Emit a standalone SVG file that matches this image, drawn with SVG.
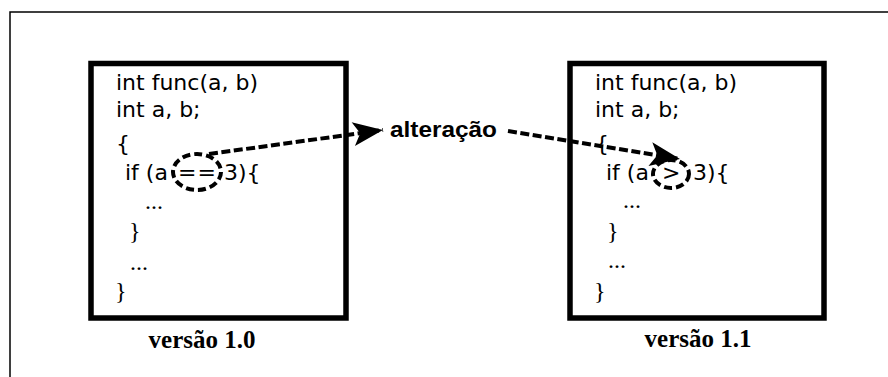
<svg xmlns="http://www.w3.org/2000/svg" width="888" height="377" viewBox="0 0 888 377">
  <style>
    .frame { fill: none; stroke: #000; stroke-width: 1.5; }
    .box { fill: #fff; stroke: #000; stroke-width: 5.5; }
    .code { font-family: "DejaVu Sans", "Liberation Sans", sans-serif; font-size: 22px; fill: #000; }
    .serif { font-family: "Liberation Serif", "Times New Roman", serif; font-size: 24px; fill: #000; }
    .caption { font-family: "Liberation Serif", "Times New Roman", serif; font-size: 25px; font-weight: bold; fill: #000; text-anchor: middle; }
    .label { font-family: "Liberation Sans", Arial, sans-serif; font-size: 22px; font-weight: bold; fill: #000; }
    .mark { fill: none; stroke: #000; stroke-width: 4; stroke-dasharray: 8 4; }
    .conn { fill: none; stroke: #000; stroke-width: 4; stroke-dasharray: 9 3.5; }
  </style>
  <defs>
    <marker id="head" markerUnits="userSpaceOnUse" markerWidth="36" markerHeight="30" refX="32" refY="14" orient="auto">
      <path d="M32,14 L2,2 L9,14 L2,26 Z" fill="#000"/>
    </marker>
  </defs>

  <rect width="888" height="377" fill="#fff"/>

  <!-- outer frame (top and left edges) -->
  <path class="frame" d="M10,377 V12 H888"/>

  <!-- version 1.0 -->
  <g id="v10">
    <rect class="box" x="91" y="63.5" width="255" height="254.5"/>
    <text class="code" x="116" y="90">int func(a, b)</text>
    <text class="code" x="116" y="117">int a, b;</text>
    <text class="code" x="116" y="151">{</text>
    <text class="code" y="180"><tspan x="125">if (a</tspan><tspan x="178" textLength="38" lengthAdjust="spacing">==</tspan><tspan x="224">3){</tspan></text>
    <ellipse class="mark" cx="197" cy="172" rx="24" ry="18"/>
    <text class="serif" x="145" y="209">...</text>
    <text class="serif" x="129" y="239">}</text>
    <text class="serif" x="130" y="270">...</text>
    <text class="serif" x="115" y="299">}</text>
    <text class="caption" x="202" y="348">versão 1.0</text>
  </g>

  <!-- version 1.1 -->
  <g id="v11">
    <rect class="box" x="570" y="63.5" width="254" height="254.5"/>
    <text class="code" x="595" y="90">int func(a, b)</text>
    <text class="code" x="595" y="117">int a, b;</text>
    <text class="code" x="595" y="151">{</text>
    <text class="code" y="180"><tspan x="606">if (a</tspan><tspan x="662">&gt;</tspan><tspan x="693">3){</tspan></text>
    <ellipse class="mark" cx="671" cy="174" rx="18" ry="14"/>
    <text class="serif" x="623" y="208">...</text>
    <text class="serif" x="607" y="239">}</text>
    <text class="serif" x="608" y="268">...</text>
    <text class="serif" x="594" y="299">}</text>
    <text class="caption" x="698" y="347">versão 1.1</text>
  </g>

  <!-- change label -->
  <g id="change">
    <text class="label" x="390" y="137" textLength="107" lengthAdjust="spacingAndGlyphs">alteração</text>
  </g>

  <!-- connectors -->
  <g id="connectors">
    <path class="conn" d="M209,154 L383,130" marker-end="url(#head)"/>
    <path class="conn" d="M508,131 L680,159" marker-end="url(#head)"/>
  </g>
</svg>
